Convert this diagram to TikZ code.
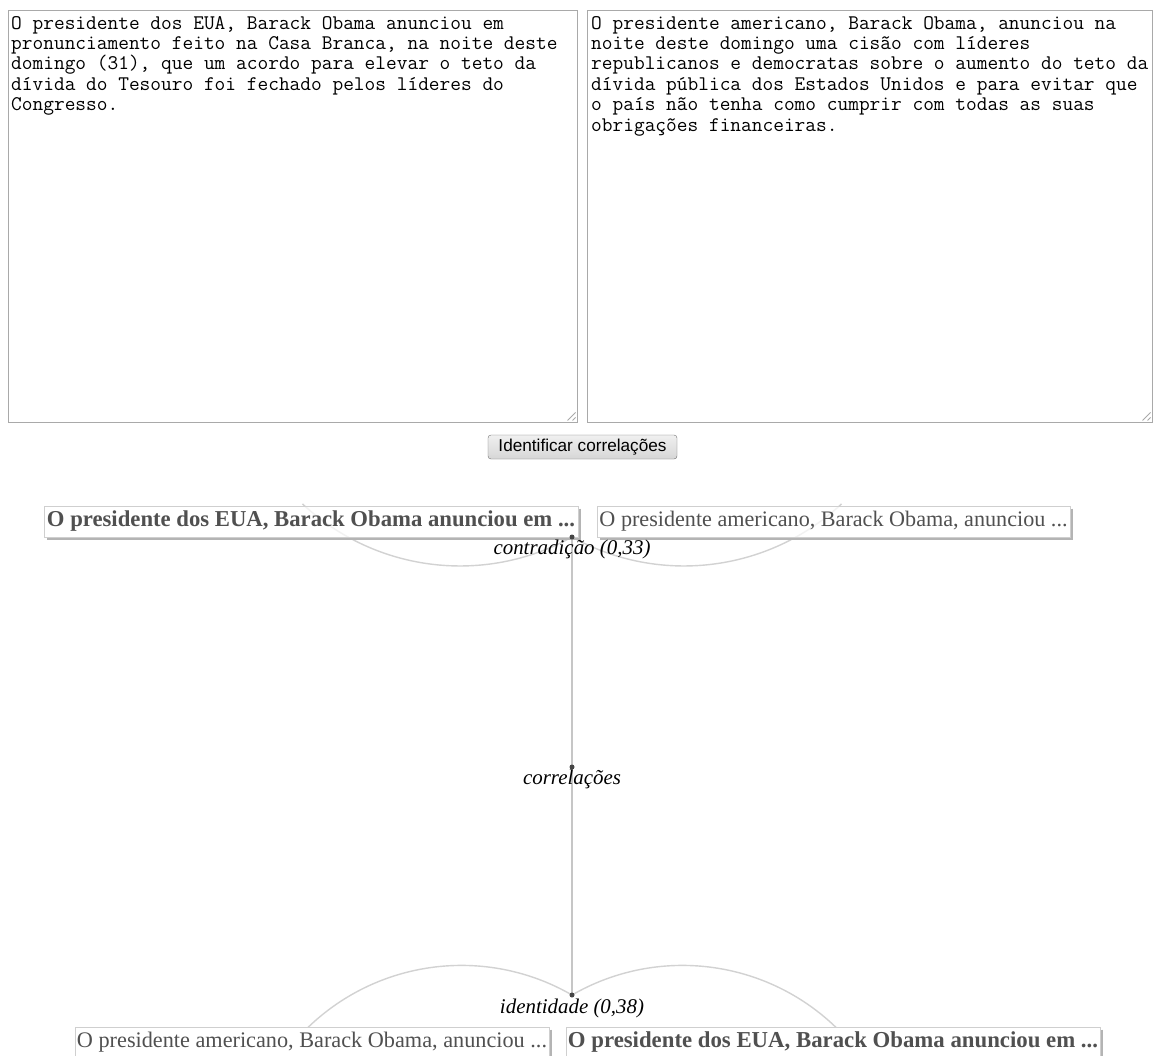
\documentclass[tikz,border=0pt]{standalone}
\usepackage{fontspec}
\setmainfont{Liberation Serif}
\newfontfamily\uifont{Liberation Sans}
\usetikzlibrary{calc}

\definecolor{areaborder}{HTML}{A9A9A9}
\definecolor{linkgray}{HTML}{D2D2D2}
\definecolor{stemgray}{HTML}{C6C6C6}
\definecolor{dotgray}{HTML}{454545}
\definecolor{boxtext}{HTML}{505050}
\definecolor{boxborder}{HTML}{CFCFCF}
\definecolor{boxshadow}{HTML}{B4B4B4}
\definecolor{btnborder}{HTML}{707070}

% scale a piece of text to an exact width
\newcommand{\fitto}[2]{\resizebox{#1}{!}{#2}}

\begin{document}
\begin{tikzpicture}[x=1pt,y=-1pt,
  areabox/.style={draw=areaborder, line width=1pt, fill=white, inner sep=0pt},
  areatext/.style={anchor=base west, inner sep=0pt,
    font=\ttfamily\fontsize{20.8}{20.4}\selectfont},
  grip/.style={draw=areaborder, line width=0.8pt},
  btn/.style={draw=btnborder, rounded corners=3pt, top color=white!94!black,
    bottom color=white!84!black, minimum width=189pt, minimum height=24pt, inner sep=0pt},
  link/.style={draw=linkgray, line width=1.4pt},
  stem/.style={draw=stemgray, line width=1.8pt},
  jdot/.style={circle, fill=dotgray, inner sep=0pt, minimum size=5pt},
  gbox/.style={draw=boxborder, line width=1pt, fill=white, fill opacity=0.72,
    text opacity=1, text=boxtext, minimum height=31pt, inner sep=0pt},
  gshadow/.style={draw=boxshadow, line width=1.6pt},
  lab/.style={anchor=base, inner sep=0pt, text=black}
]
\useasboundingbox[fill=white] (0,0) rectangle (1153,1055);

% ---- input text areas ----
\node[areabox, minimum width=569pt, minimum height=412pt] (leftarea) at (292.5,216) {};
\node[areabox, minimum width=565pt, minimum height=412pt] (rightarea) at (869.5,216) {};

\draw[grip] ($(leftarea.south east)+(-2,-10)$) -- ($(leftarea.south east)+(-10,-2)$);
\draw[grip] ($(leftarea.south east)+(-2,-5)$) -- ($(leftarea.south east)+(-5,-2)$);
\draw[grip] ($(rightarea.south east)+(-2,-10)$) -- ($(rightarea.south east)+(-10,-2)$);
\draw[grip] ($(rightarea.south east)+(-2,-5)$) -- ($(rightarea.south east)+(-5,-2)$);

\node[areatext] (l1) at (11,29)    {O presidente dos EUA, Barack Obama anunciou em};
\node[areatext] (l2) at (11,49.4)  {pronunciamento feito na Casa Branca, na noite deste};
\node[areatext] (l3) at (11,69.8)  {domingo (31), que um acordo para elevar o teto da};
\node[areatext] (l4) at (11,90.2)  {dívida do Tesouro foi fechado pelos líderes do};
\node[areatext] (l5) at (11,110.6) {Congresso.};

\node[areatext] (r1) at (591,29)    {O presidente americano, Barack Obama, anunciou na};
\node[areatext] (r2) at (591,49.4)  {noite deste domingo uma cisão com líderes};
\node[areatext] (r3) at (591,69.8)  {republicanos e democratas sobre o aumento do teto da};
\node[areatext] (r4) at (591,90.2)  {dívida pública dos Estados Unidos e para evitar que};
\node[areatext] (r5) at (591,110.6) {o país não tenha como cumprir com todas as suas};
\node[areatext] (r6) at (591,131)   {obrigações financeiras.};

% ---- button ----
\node[btn] (go) at (582.5,447) {\fitto{168pt}{\uifont Identificar correlações}};

% ---- correlation tree: junction points ----
\coordinate (cpos) at (572,537);
\coordinate (rpos) at (572,767);
\coordinate (ipos) at (572,995);

\draw[stem] (cpos) -- (rpos) -- (ipos);

\draw[link] (cpos) arc[start angle=61, end angle=133, radius=231];
\draw[link] (cpos) arc[start angle=119, end angle=47, radius=231];
\draw[link] (ipos) arc[start angle=-60, end angle=-134, radius=221];
\draw[link] (ipos) arc[start angle=-120, end angle=-46, radius=221];

% ---- sentence boxes ----
\node[gbox, minimum width=534pt] (tl) at (311,521.5)
  {\fitto{528pt}{\bfseries O presidente dos EUA, Barack Obama anunciou em ...}};
\node[gbox, minimum width=473pt] (tr) at (833.5,521.5)
  {\fitto{468pt}{O presidente americano, Barack Obama, anunciou ...}};
\node[gbox, minimum width=474pt] (bl) at (312,1042.5)
  {\fitto{470pt}{O presidente americano, Barack Obama, anunciou ...}};
\node[gbox, minimum width=534pt] (br) at (833,1042.5)
  {\fitto{530pt}{\bfseries O presidente dos EUA, Barack Obama anunciou em ...}};

\foreach \b in {tl,tr,bl,br}{
  \draw[gshadow] ($(\b.north east)+(1.3,3)$) -- ($(\b.south east)+(1.3,1.3)$)
    -- ($(\b.south west)+(3,1.3)$);
}

% ---- junction dots and labels ----
\node[jdot] (cdot) at (cpos) {};
\node[jdot] (rdot) at (rpos) {};
\node[jdot] (idot) at (ipos) {};

\node[lab] (clab) at (572,554) {\fitto{157pt}{\itshape contradição (0,33)}};
\node[lab] (rlab) at (572,784) {\fitto{98pt}{\itshape correlações}};
\node[lab] (ilab) at (572,1013) {\fitto{144pt}{\itshape identidade (0,38)}};
\end{tikzpicture}
\end{document}
